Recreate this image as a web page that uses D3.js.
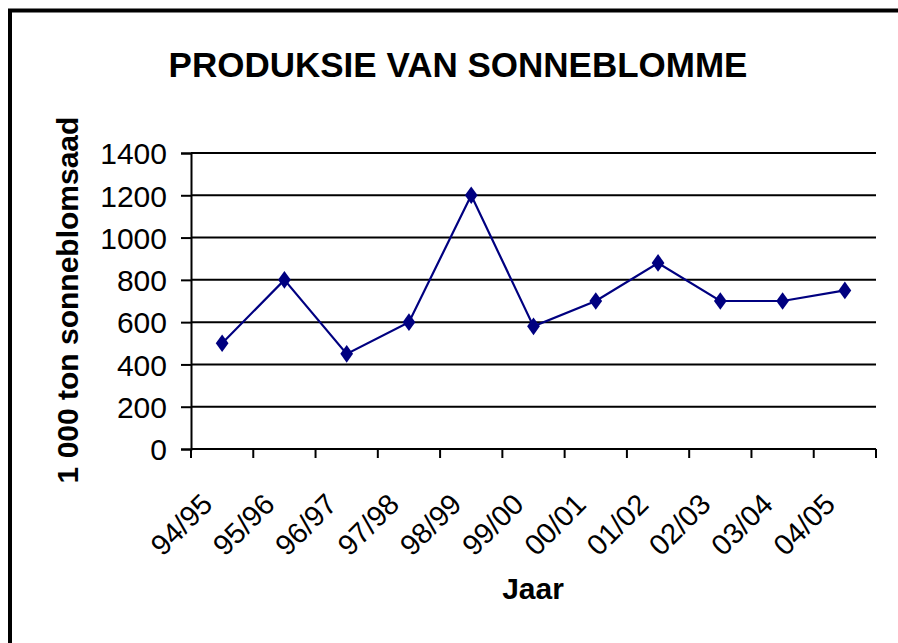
<!DOCTYPE html>
<html>
<head>
<meta charset="utf-8">
<script src="https://cdn.jsdelivr.net/npm/d3@7"></script>
<style>
  body { margin: 0; background: #fff; }
  text { font-family: "Liberation Sans", Arial, sans-serif; fill: #000; }
</style>
</head>
<body>
<div id="chart"></div>
<script>
var years = ["94/95", "95/96", "96/97", "97/98", "98/99", "99/00", "00/01", "01/02", "02/03", "03/04", "04/05"];
var production = [500, 800, 450, 600, 1200, 580, 700, 880, 700, 700, 750];
var yTicks = [0, 200, 400, 600, 800, 1000, 1200, 1400];

var svgWidth = 898;
var svgHeight = 643;

var plot = { left: 191, right: 876, top: 153, bottom: 449 };

var svg = d3.select("#chart")
  .append("svg")
  .attr("width", svgWidth)
  .attr("height", svgHeight);

// frame (only top and left visible in the cropped picture)
svg.append("path")
  .attr("d", "M10,643 V10.5 H898")
  .attr("fill", "none")
  .attr("stroke", "#000")
  .attr("stroke-width", 4);

var x = d3.scaleBand()
  .domain(years)
  .range([plot.left, plot.right])
  .padding(0);

var y = d3.scaleLinear()
  .domain([0, 1400])
  .range([plot.bottom, plot.top]);

// gridlines
svg.append("g")
  .selectAll("line")
  .data(yTicks.filter(d => d > 0))
  .enter()
  .append("line")
  .attr("x1", plot.left)
  .attr("x2", plot.right)
  .attr("y1", d => y(d))
  .attr("y2", d => y(d))
  .attr("stroke", "#000")
  .attr("stroke-width", 2);

// y axis
var leftAxis = d3.axisLeft(y)
  .tickValues(yTicks)
  .tickFormat(d3.format("d"))
  .tickSize(10)
  .tickPadding(14);

var yAxis = svg.append("g")
  .attr("transform", `translate(${plot.left}, 0)`)
  .call(leftAxis);

yAxis.select(".domain").attr("stroke-width", 2);
yAxis.selectAll(".tick line").attr("stroke-width", 2);
yAxis.selectAll(".tick text")
  .attr("font-size", "30px")
  .attr("font-family", "Liberation Sans, Arial, sans-serif")
  .attr("dy", "0.36em");

// x axis, ticks between categories
var xAxis = svg.append("g");
xAxis.append("line")
  .attr("x1", plot.left)
  .attr("x2", plot.right)
  .attr("y1", plot.bottom)
  .attr("y2", plot.bottom)
  .attr("stroke", "#000")
  .attr("stroke-width", 2);

xAxis.selectAll(".xtick")
  .data(years.concat(["end"]))
  .enter()
  .append("line")
  .attr("class", "xtick")
  .attr("x1", (d, i) => plot.left + i * x.bandwidth())
  .attr("x2", (d, i) => plot.left + i * x.bandwidth())
  .attr("y1", plot.bottom)
  .attr("y2", plot.bottom + 9)
  .attr("stroke", "#000")
  .attr("stroke-width", 2);

xAxis.selectAll(".xlabel")
  .data(years)
  .enter()
  .append("text")
  .attr("class", "xlabel")
  .attr("text-anchor", "end")
  .attr("font-size", "29px")
  .attr("transform", d => `translate(${x(d) + x.bandwidth() / 2 - 8}, 506) rotate(-45)`)
  .text(d => d);

// line + markers
var line = d3.line()
  .x((d, i) => x(years[i]) + x.bandwidth() / 2)
  .y(d => y(d));

svg.append("path")
  .datum(production)
  .attr("d", line)
  .attr("fill", "none")
  .attr("stroke", "#000080")
  .attr("stroke-width", 2.2);

svg.selectAll(".marker")
  .data(production)
  .enter()
  .append("path")
  .attr("class", "marker")
  .attr("d", d3.symbol().type(d3.symbolDiamond).size(90))
  .attr("transform", (d, i) => `translate(${x(years[i]) + x.bandwidth() / 2}, ${y(d)}) scale(1.25, 1)`)
  .attr("fill", "#000080");

// titles
svg.append("text")
  .attr("x", 458)
  .attr("y", 77)
  .attr("text-anchor", "middle")
  .attr("font-size", "35px")
  .attr("font-weight", "bold")
  .text("PRODUKSIE VAN SONNEBLOMME");

svg.append("text")
  .attr("transform", "translate(78, 300) rotate(-90)")
  .attr("text-anchor", "middle")
  .attr("font-size", "30px")
  .attr("font-weight", "bold")
  .text("1 000 ton sonneblomsaad");

svg.append("text")
  .attr("x", 533)
  .attr("y", 599)
  .attr("text-anchor", "middle")
  .attr("font-size", "30px")
  .attr("font-weight", "bold")
  .text("Jaar");
</script>
</body>
</html>
